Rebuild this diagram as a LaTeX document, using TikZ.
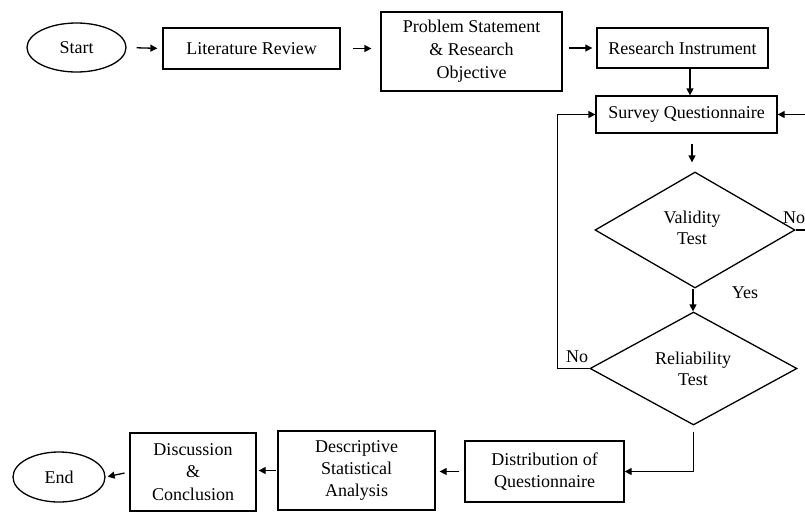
\documentclass[tikz,border=0pt]{standalone}
\usepackage{fontspec}
\setmainfont{Liberation Serif}
\newfontfamily\tnr{Liberation Serif}
\usetikzlibrary{shapes.geometric,arrows.meta}
\tikzset{
  txt/.style={font=\tnr\fontsize{18pt}{21pt}\selectfont, align=center, inner sep=0pt},
  box/.style={draw, line width=1.3pt, inner sep=0pt, align=center, font=\tnr\fontsize{18pt}{23pt}\selectfont},
  oval/.style={draw, ellipse, line width=1.3pt, inner sep=0pt, font=\tnr\fontsize{18pt}{22pt}\selectfont},
  dia/.style={draw, diamond, line width=1.3pt, inner sep=0pt},
  arr/.style={line width=1.3pt, -{Triangle[length=7pt,width=7pt]}},
  ln/.style={line width=1.3pt}
}
\begin{document}
\begin{tikzpicture}[x=1pt,y=-1pt]
\useasboundingbox (0,0) rectangle (805,512);
\clip (0,0) rectangle (805,512);
% nodes
\node[oval, minimum width=99pt, minimum height=49pt] (start) at (76.5,47.5) {Start};
\node[box, minimum width=177pt, minimum height=41pt] (lit) at (251.5,48.5) {Literature Review};
\node[box, minimum width=181pt, minimum height=79pt] (ps) at (471.5,51.5) {Problem Statement\\ \& Research\\ Objective};
\node[box, minimum width=171pt, minimum height=40pt] (ri) at (682.5,48) {Research Instrument};
\node[box, minimum width=181pt, minimum height=37pt] (sq) at (686.5,114.5) {Survey Questionnaire};
\node[dia, minimum width=200pt, minimum height=116pt] (val) at (695,230) {};
\node[txt] (valt) at (692,228) {Validity\\ Test};
\node[dia, minimum width=207pt, minimum height=113pt] (rel) at (693.5,368.5) {};
\node[txt] (relt) at (693,369) {Reliability\\ Test};
\node[box, minimum width=159pt, minimum height=61pt, font=\tnr\fontsize{18pt}{21.5pt}\selectfont] (dist) at (544.5,471.5) {Distribution of\\ Questionnaire};
\node[box, minimum width=157pt, minimum height=79pt, font=\tnr\fontsize{18pt}{22pt}\selectfont] (desc) at (356.5,470.5) {Descriptive\\ Statistical\\ Analysis};
\node[box, minimum width=126pt, minimum height=78pt, font=\tnr\fontsize{18pt}{22.5pt}\selectfont] (disc) at (193,472) {Discussion\\ \&\\ Conclusion};
\node[oval, minimum width=92pt, minimum height=50pt] (end) at (59,477) {End};
% labels
\node[txt] (nol) at (577,357) {No};
\node[txt] (nor) at (794,218) {No};
\node[txt] (yes) at (745,293) {Yes};
% helper coordinates
\coordinate (noL) at (557.5,368.5);
\coordinate (noR) at (812,230);
% connectors
\draw[arr, shorten <=10pt, shorten >=5pt] (start.east) -- (lit.west);
\draw[arr, shorten <=12pt, shorten >=9pt] (lit.east) -- (lit.east -| ps.west);
\draw[arr, shorten <=6pt, shorten >=4pt] (ri.west -| ps.east) -- (ri.west);
\draw[arr] ([xshift=7.5pt]ri.south) -- ([xshift=7.5pt]ri.south |- sq.north);
\draw[arr, shorten <=10pt, shorten >=9pt] ([xshift=-3pt]val.north |- sq.south) -- ([xshift=-3pt]val.north);
\draw[arr] ([xshift=-2pt]val.south) -- ([xshift=-2pt]val.south |- rel.north);
\draw[arr] (rel.west) -- (noL) |- (sq.west);
\draw[arr] (val.east) -- (noR) |- (sq.east);
\draw[arr, shorten <=6pt] (rel.south) |- (dist.east);
\draw[arr, shorten <=5pt, shorten >=4pt] (dist.west) -- (dist.west -| desc.east);
\draw[arr, shorten <=1pt, shorten >=2pt] (desc.west) -- (desc.west -| disc.east);
\draw[arr, shorten <=5pt, shorten >=2pt] (disc.west) -- (end.east);
\end{tikzpicture}
\end{document}
